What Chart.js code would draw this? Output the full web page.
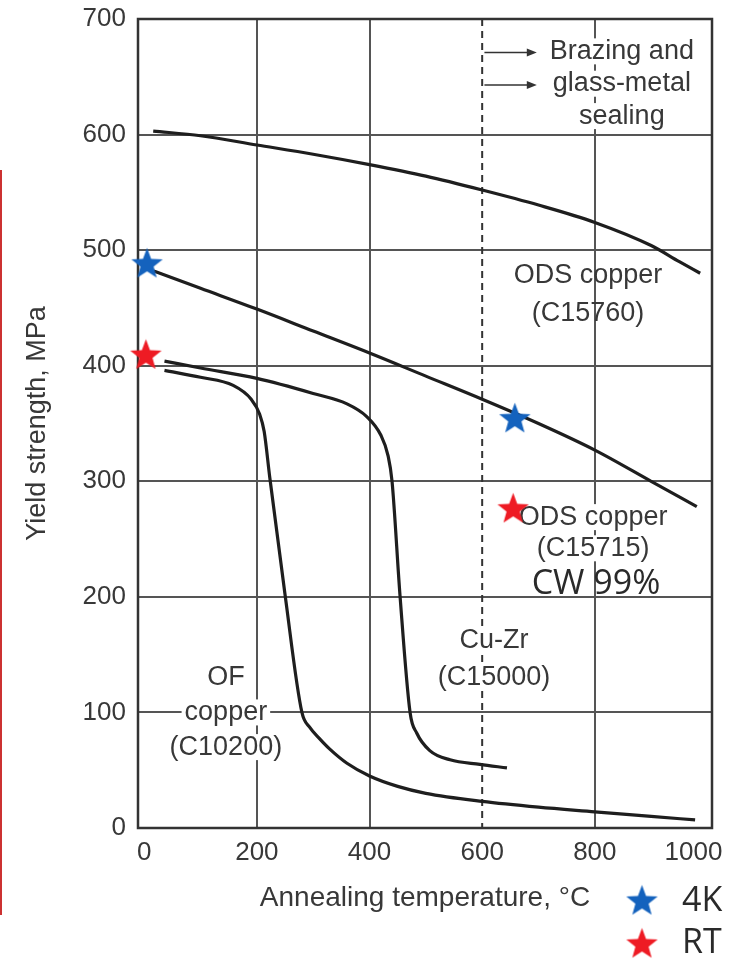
<!DOCTYPE html>
<html>
<head>
<meta charset="utf-8">
<script src="https://cdn.jsdelivr.net/npm/chart.js@4.4.0/dist/chart.umd.min.js"></script>
<style>
  html, body { margin: 0; padding: 0; background: #fff; }
  #wrap { position: relative; width: 729px; height: 959px; }
  #redBar { position: absolute; left: 0; top: 170px; width: 2px; height: 745px; background: #cc3131; }
</style>
</head>
<body>
<div id="wrap">
  <canvas id="chart" width="729" height="959"></canvas>
  <div id="redBar"></div>
</div>
<script>
// axis ticks
const xTicks = [0, 200, 400, 600, 800, 1000];
const yTicks = [0, 100, 200, 300, 400, 500, 600, 700];

// ODS copper (C15760)
const odsC15760T = [16, 100, 200, 300, 400, 500, 600, 700, 800, 900, 950, 987];
const odsC15760Y = [603, 599, 591, 583, 574, 564, 552, 539, 524, 504, 490, 480];

// ODS copper (C15715)
const odsC15715T = [17, 100, 200, 300, 400, 500, 600, 700, 800, 900, 981];
const odsC15715Y = [482, 467, 449, 430, 411, 391, 371, 350, 327, 300, 278];

// Cu-Zr (C15000)
const cuZrT = [36, 100, 200, 300, 360, 395, 420, 433, 440, 454, 472, 484, 507, 543, 596, 644];
const cuZrY = [404, 398, 389, 376, 367, 356, 340, 322, 300, 202, 100, 82, 67, 59, 55, 52];

// OF copper (C10200)
const ofT = [36, 100, 158, 190, 205, 213, 223, 250, 280, 294, 310, 330, 360, 400, 450, 500, 600, 700, 800, 900, 978];
const ofY = [396, 390, 383, 371, 358, 343, 303, 202, 100, 87, 78, 68, 56, 45, 36, 30, 23, 18, 14, 10, 7];

// star markers: 4K and RT
const star4KT = [5, 658];
const star4KY = [489, 355];
const starRTT = [3, 655];
const starRTY = [410, 277];

const limitT = 600; // brazing / sealing limit (dashed line)

const toXY = (xs, ys) => xs.map((x, i) => ({ x: x, y: ys[i] }));

function makeStar(color, r) {
    const c = document.createElement('canvas');
    const s = Math.ceil(r * 2 + 2);
    c.width = s;
    c.height = s;
    const g = c.getContext('2d');
    g.beginPath();
    for (let i = 0; i < 10; i++) {
        const rad = i % 2 === 0 ? r : r * 0.42;
        const a = -Math.PI / 2 + i * Math.PI / 5;
        g.lineTo(s / 2 + rad * Math.cos(a), s / 2 + 1.5 + rad * Math.sin(a));
    }
    g.closePath();
    g.fillStyle = color;
    g.fill();
    return c;
}

const blueStar = makeStar('#1462bd', 16.5);
const redStar = makeStar('#ee1b24', 16.5);

const textColor = '#383838';
const lineColor = '#1e1e1e';
const mainFont = '"Liberation Sans", Arial, sans-serif';

// text notes placed in data units
const notes = [
    { x: 145, y: [130, 100, 70], lines: ['OF', 'copper', '(C10200)'], bg: true },
    { x: 621, y: [162, 130], lines: ['Cu-Zr', '(C15000)'], bg: true },
    { x: 788, y: [478, 445], lines: ['ODS copper', '(C15760)'], bg: false },
    { x: 797, y: [269, 242], lines: ['ODS copper', '(C15715)'], bg: true },
    { x: 802, y: [211], lines: ['CW 99%'], bg: false, font: '34px "Open Sans"', color: '#2a2a2a' },
    { x: 848, y: [672, 644, 616], lines: ['Brazing and', 'glass-metal', 'sealing'], bg: true }
];
const arrows = [
    { x0: 604, x1: 697, y: 671 },
    { x0: 604, x1: 697, y: 643 }
];

const decorPlugin = {
    id: 'decor',
    beforeDraw(chart) {
        // keep the last x label inside the page, as in the original
        const xs = chart.scales.x;
        const items = xs.getLabelItems(chart.chartArea);
        const last = items[items.length - 1];
        if (last && !last._moved) {
            last.options.translation[0] -= 14;
            last._moved = true;
        }
    },
    beforeDatasetsDraw(chart) {
        const { ctx, chartArea: a, scales } = chart;
        const xs = scales.x;
        ctx.save();
        // dashed limit line
        const px = xs.getPixelForValue(limitT);
        ctx.strokeStyle = '#333';
        ctx.lineWidth = 2;
        ctx.setLineDash([7, 5]);
        ctx.beginPath();
        ctx.moveTo(px, a.top);
        ctx.lineTo(px, a.bottom);
        ctx.stroke();
        ctx.setLineDash([]);
        // frame
        ctx.strokeStyle = '#333';
        ctx.lineWidth = 2.5;
        ctx.strokeRect(a.left, a.top, a.right - a.left, a.bottom - a.top);

        // notes
        ctx.textAlign = 'center';
        ctx.textBaseline = 'middle';
        notes.forEach(n => {
            ctx.font = n.font || '27px ' + mainFont;
            const cx = xs.getPixelForValue(n.x);
            n.lines.forEach((t, i) => {
                const cy = scales.y.getPixelForValue(n.y[i]);
                if (n.bg) {
                    const w = ctx.measureText(t).width;
                    ctx.fillStyle = '#fff';
                    ctx.fillRect(cx - w / 2 - 3, cy - 13, w + 6, 26);
                }
                ctx.fillStyle = n.color || textColor;
                ctx.fillText(t, cx, cy);
            });
        });

        // arrows
        ctx.strokeStyle = '#333';
        ctx.fillStyle = '#333';
        ctx.lineWidth = 1.5;
        arrows.forEach(ar => {
            const x0 = xs.getPixelForValue(ar.x0);
            const x1 = xs.getPixelForValue(ar.x1);
            const y = scales.y.getPixelForValue(ar.y);
            ctx.beginPath();
            ctx.moveTo(x0, y);
            ctx.lineTo(x1 - 8, y);
            ctx.stroke();
            ctx.beginPath();
            ctx.moveTo(x1, y);
            ctx.lineTo(x1 - 10, y - 4);
            ctx.lineTo(x1 - 10, y + 4);
            ctx.closePath();
            ctx.fill();
        });
        ctx.restore();
    },
    afterDraw(chart) {
        // star legend, lower right
        const { ctx } = chart;
        ctx.save();
        ctx.drawImage(blueStar, 642 - blueStar.width / 2, 900 - blueStar.height / 2);
        ctx.drawImage(redStar, 642 - redStar.width / 2, 943 - redStar.height / 2);
        ctx.font = '34px "Open Sans", sans-serif';
        ctx.fillStyle = '#2a2a2a';
        ctx.textAlign = 'left';
        ctx.textBaseline = 'middle';
        ctx.fillText('4K', 682, 901);
        ctx.fillText('RT', 682, 943);
        ctx.restore();
    }
};

const curveStyle = {
    borderColor: lineColor,
    borderWidth: 3.2,
    pointRadius: 0,
    fill: false,
    cubicInterpolationMode: 'monotone'
};

const ctx = document.getElementById('chart').getContext('2d');
const chart = new Chart(ctx, {
    type: 'line',
    data: {
        datasets: [
            { label: '4K', data: toXY(star4KT, star4KY), showLine: false, pointStyle: blueStar, clip: false, order: -1 },
            { label: 'RT', data: toXY(starRTT, starRTY), showLine: false, pointStyle: redStar, clip: false, order: -1 },
            Object.assign({ label: 'ODS copper (C15760)', data: toXY(odsC15760T, odsC15760Y) }, curveStyle),
            Object.assign({ label: 'ODS copper (C15715)', data: toXY(odsC15715T, odsC15715Y) }, curveStyle),
            Object.assign({ label: 'Cu-Zr (C15000)', data: toXY(cuZrT, cuZrY) }, curveStyle),
            Object.assign({ label: 'OF copper (C10200)', data: toXY(ofT, ofY) }, curveStyle)
        ]
    },
    options: {
        responsive: false,
        animation: false,
        devicePixelRatio: 1,
        layout: { padding: { top: 19, right: 17, bottom: 0, left: 0 } },
        plugins: {
            legend: { display: false },
            tooltip: { enabled: false }
        },
        scales: {
            x: {
                type: 'linear',
                min: -11,
                max: 1008,
                afterBuildTicks: scale => { scale.ticks = xTicks.map(v => ({ value: v })); },
                afterFit: scale => {
                    scale.height = 131;
                    scale.paddingLeft = 0;
                    scale.paddingRight = 0;
                },
                border: { display: false },
                grid: {
                    drawTicks: false,
                    lineWidth: 2,
                    color: c => [200, 400, 800].includes(c.tick.value) ? '#555' : 'rgba(0,0,0,0)'
                },
                ticks: {
                    autoSkip: false,
                    maxRotation: 0,
                    padding: 9,
                    color: textColor,
                    callback: v => String(v),
                    font: { family: mainFont, size: 26 }
                },
                title: {
                    display: true,
                    text: 'Annealing temperature, \u00b0C',
                    color: textColor,
                    padding: { top: 4, bottom: 44 },
                    font: { family: mainFont, size: 28 }
                }
            },
            y: {
                type: 'linear',
                min: 0,
                max: 700,
                afterBuildTicks: scale => { scale.ticks = yTicks.map(v => ({ value: v })); },
                afterFit: scale => {
                    scale.width = 138;
                    scale.paddingTop = 0;
                    scale.paddingBottom = 0;
                },
                border: { display: false },
                grid: {
                    drawTicks: false,
                    lineWidth: 2,
                    color: c => (c.tick.value > 0 && c.tick.value < 700) ? '#555' : 'rgba(0,0,0,0)'
                },
                ticks: {
                    padding: 12,
                    color: textColor,
                    callback: v => String(v),
                    font: { family: mainFont, size: 26 }
                },
                title: {
                    display: true,
                    text: 'Yield strength, MPa',
                    color: textColor,
                    padding: { top: 21, bottom: 0 },
                    font: { family: mainFont, size: 27 }
                }
            }
        }
    },
    plugins: [decorPlugin]
});
</script>
</body>
</html>
